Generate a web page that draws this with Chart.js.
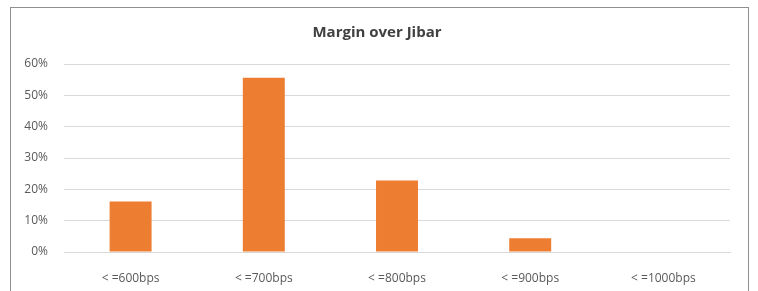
<!DOCTYPE html>
<html>
<head>
<meta charset="utf-8">
<script src="https://cdn.jsdelivr.net/npm/chart.js@4"></script>
<style>
  html, body { margin: 0; padding: 0; background: #fff; }
  .wrap { position: relative; width: 758px; height: 291px; }
  .frame { position: absolute; left: 10px; top: 7px; width: 737px; height: 300px;
           border: 1px solid #8f8f8f; border-bottom: none; pointer-events: none; }
  canvas { position: absolute; left: 0; top: 0; }
</style>
</head>
<body>
<div class="wrap">
  <canvas id="chart" width="758" height="291"></canvas>
  <div class="frame"></div>
</div>
<script>
const categories = ['< =600bps', '< =700bps', '< =800bps', '< =900bps', '< =1000bps'];
const shares = [16.1, 55.6, 22.8, 4.4, 0];
const yTicks = [0, 10, 20, 30, 40, 50, 60];

const ctx = document.getElementById('chart').getContext('2d');
new Chart(ctx, {
    type: 'bar',
    data: {
        labels: categories,
        datasets: [{
            data: shares,
            backgroundColor: '#ed7d31',
            barPercentage: 0.315,
            categoryPercentage: 1
        }]
    },
    options: {
        responsive: false,
        animation: false,
        layout: { padding: { left: 24, right: 28, top: 0, bottom: 0 } },
        plugins: {
            legend: { display: false },
            tooltip: { enabled: false },
            title: {
                display: true,
                text: 'Margin over Jibar',
                color: '#404040',
                font: { family: 'Open Sans', size: 15, weight: 'bold', lineHeight: 1.2 },
                padding: { top: 24, bottom: 22 }
            }
        },
        scales: {
            x: {
                grid: { display: false },
                border: { color: '#d9d9d9' },
                ticks: { color: '#595959', font: { family: 'Open Sans', size: 12 }, padding: 11, maxRotation: 0 },
                afterFit: (scale) => { scale.height = 39; }
            },
            y: {
                min: 0,
                max: 60,
                afterBuildTicks: (scale) => { scale.ticks = yTicks.map(v => ({ value: v })); },
                grid: { color: '#d9d9d9', drawTicks: false },
                border: { display: false },
                ticks: {
                    color: '#595959',
                    font: { family: 'Open Sans', size: 12 },
                    padding: 16,
                    callback: (v) => v + '%'
                },
                afterFit: (scale) => { scale.width = 40; }
            }
        }
    }
});
</script>
</body>
</html>
